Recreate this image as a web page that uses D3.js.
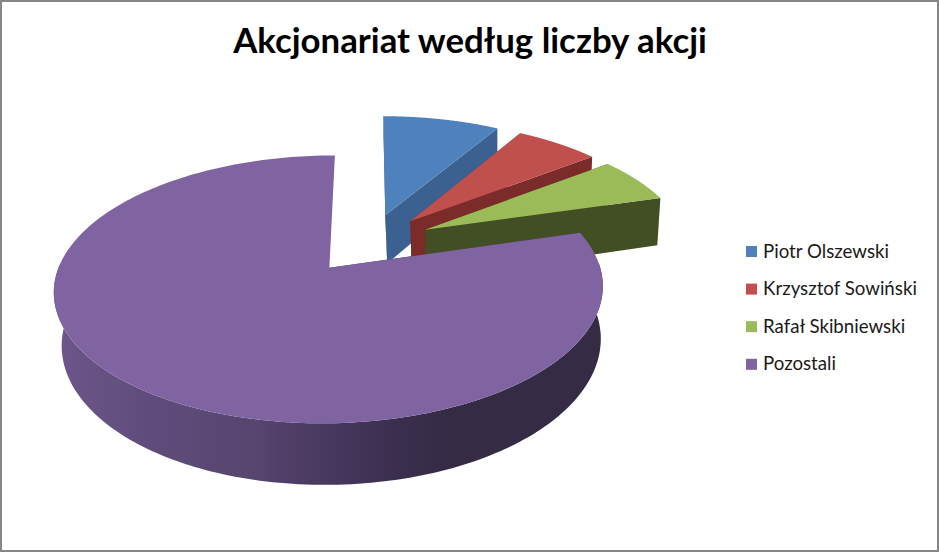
<!DOCTYPE html>
<html lang="pl">
<head>
    <meta charset="UTF-8">
    <title>Akcjonariat</title>
    <script src="https://d3js.org/d3.v7.min.js"></script>
    <style>
        html, body { margin: 0; background: #868686; }
        svg { display: block; }
    </style>
</head>
<body>
    <svg width="939" height="552"></svg>
    <script>
        const names = ['Piotr Olszewski', 'Krzysztof Sowiński', 'Rafał Skibniewski', 'Pozostali'];
        const shares = [8.5, 6.1, 5.9, 79.5];
        const topColors = ['#4f81bd', '#c0504d', '#9bbb59', '#8064a2'];
        const wallColors = ['#3b6191', '#7b2b29', '#424f24', 'url(#rim)'];
        const title = 'Akcjonariat według liczby akcji';

        // fake 3d camera, fitted by eye
        const origin = {x: 369, y: 243};
        const radius = 238, explode = 58, depth = 50;
        const sx = 1.103, sy = 0.515, persp = 0.00066;
        const vanishX = 491, shrink = 0.018;

        const project = (px, py, low) => {
            const s = 1 / (1 - persp * py);
            let x = origin.x + sx * px * s;
            let y = origin.y + sy * py * s;
            if (low) {
                x += (vanishX - x) * shrink;
                y += depth * s;
            }
            return [x, y];
        };

        const svg = d3.select('svg');
        const line = d3.line();

        const defs = svg.append('defs');
        const rim = defs.append('linearGradient')
            .attr('id', 'rim')
            .attr('gradientUnits', 'userSpaceOnUse')
            .attr('x1', 53).attr('x2', 601).attr('y1', 0).attr('y2', 0);
        [[0, '#6d568b'], [0.18, '#5f4c7b'], [0.36, '#574670'], [0.5, '#47385f'],
         [0.64, '#3a2e4e'], [0.72, '#352b45'], [1, '#352b45']].forEach(d => {
            rim.append('stop').attr('offset', d[0]).attr('stop-color', d[1]);
        });

        svg.append('rect')
            .attr('x', 2).attr('y', 2)
            .attr('width', 935).attr('height', 548)
            .attr('fill', '#fff');

        const slices = d3.pie().sort(null)(shares);

        slices.forEach((d, i) => {
            const mid = (d.startAngle + d.endAngle) / 2;
            const ax = explode * Math.sin(mid);
            const ay = -explode * Math.cos(mid);
            const rimAt = a => [ax + radius * Math.sin(a), ay - radius * Math.cos(a)];
            const angles = d3.range(0, 241).map(k => d.startAngle + (d.endAngle - d.startAngle) * k / 240);

            const g = svg.append('g');
            const wall = pts => g.append('path')
                .attr('d', line(pts) + 'Z')
                .attr('fill', wallColors[i]);

            // radial walls, the one closing the circle at 12 o'clock faces away
            const edges = d.endAngle < 2 * Math.PI - 0.001 ? [d.startAngle, d.endAngle] : [d.startAngle];
            edges.forEach(a => {
                const e = rimAt(a);
                wall([project(ax, ay), project(e[0], e[1]), project(e[0], e[1], true), project(ax, ay, true)]);
            });
            // outer wall, front half only
            const front = angles.filter(a => Math.cos(a) < 0.05);
            if (front.length) {
                const upperFront = front.map(a => project(...rimAt(a)));
                const lowerFront = front.map(a => project(...rimAt(a), true)).reverse();
                wall(upperFront.concat(lowerFront));
            }
            // top face
            const upper = angles.map(a => project(...rimAt(a)));
            g.append('path')
                .attr('d', line([project(ax, ay)].concat(upper)) + 'Z')
                .attr('fill', topColors[i]);
        });

        svg.append('text')
            .attr('x', 470).attr('y', 53)
            .attr('text-anchor', 'middle')
            .attr('font-family', 'Lato')
            .attr('font-weight', 700)
            .attr('font-size', 34.8)
            .attr('fill', '#000')
            .text(title);

        const legend = svg.append('g').selectAll('g').data(names).enter().append('g')
            .attr('transform', (d, i) => `translate(746, ${251 + i * 37.6})`);
        legend.append('rect')
            .attr('x', 0).attr('y', -5)
            .attr('width', 11).attr('height', 11)
            .attr('fill', (d, i) => topColors[i]);
        legend.append('text')
            .attr('x', 17).attr('y', 6.5)
            .attr('font-family', 'Lato')
            .attr('font-size', 18.7)
            .attr('fill', '#1a1a1a')
            .text(d => d);
    </script>
</body>
</html>
